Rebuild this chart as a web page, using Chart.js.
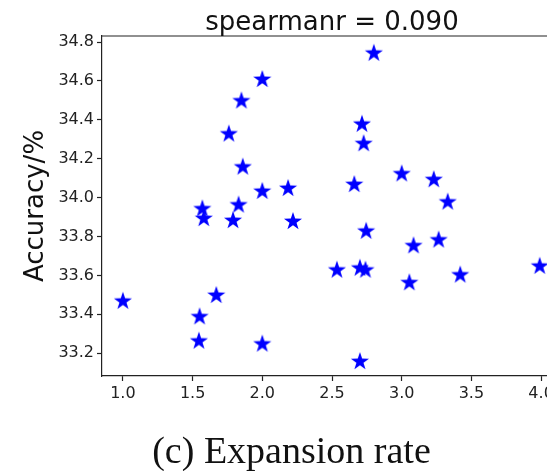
<!DOCTYPE html>
<html>
<head>
<meta charset="utf-8">
<script src="https://cdn.jsdelivr.net/npm/chart.js@4/dist/chart.umd.min.js"></script>
<style>
  html, body { margin: 0; padding: 0; background: #fff; overflow: hidden; width: 547px; height: 471px; }
  #wrap { position: relative; width: 547px; height: 471px; }
  #chart { position: absolute; left: 0; top: 0; }
  #caption {
    position: absolute; left: 0; top: 431px; width: 583px;
    text-align: center; font: 38px/38px 'Liberation Serif', 'Times New Roman', serif; color: #111;
  }
</style>
</head>
<body>
<div id="wrap">
  <canvas id="chart" width="600" height="471"></canvas>
  <div id="caption">(c) Expansion rate</div>
</div>
<script>
/* ================================================
   Expansion rate vs accuracy – scatter
================================================ */

const titleText = 'spearmanr = 0.090';
const xLabel = 'Expansion rate';
const yLabel = 'Accuracy/%';

const expansionRate = [
  1.00, 1.55, 1.545, 1.67, 2.00, 2.00, 1.85, 1.76, 1.86, 2.00, 1.57,
  1.58, 1.83, 1.79, 2.80, 2.715, 2.727, 3.00, 3.23, 3.33, 2.66, 2.185,
  2.22, 2.745, 3.085, 3.265, 2.535, 2.70, 2.74, 3.055, 3.42, 3.99, 2.70
];
const accuracy = [
  33.47, 33.39, 33.265, 33.50, 33.25, 34.61, 34.50, 34.33, 34.16, 34.035, 33.945,
  33.895, 33.965, 33.885, 34.745, 34.38, 34.28, 34.125, 34.095, 33.98, 34.07, 34.05,
  33.88, 33.83, 33.755, 33.785, 33.63, 33.64, 33.63, 33.565, 33.605, 33.65, 33.16
];

const xTicks = [1.0, 1.5, 2.0, 2.5, 3.0, 3.5, 4.0];
const yTicks = [33.2, 33.4, 33.6, 33.8, 34.0, 34.2, 34.4, 34.6, 34.8];

const INK = '#222';

function makeStar(size, color) {
  const c = document.createElement('canvas');
  c.width = size; c.height = size;
  const g = c.getContext('2d');
  const cx = size / 2, cy = size / 2 + 0.6;
  const R = size / 2 - 0.5, r = R * 0.39;
  g.beginPath();
  for (let i = 0; i < 10; i++) {
    const rad = i % 2 === 0 ? R : r;
    const a = -Math.PI / 2 + i * Math.PI / 5;
    const px = cx + rad * Math.cos(a), py = cy + rad * Math.sin(a);
    if (i === 0) g.moveTo(px, py); else g.lineTo(px, py);
  }
  g.closePath();
  g.fillStyle = color;
  g.fill();
  return c;
}

const star = makeStar(20, '#0000ff');

// top/right spines + title above the plot area
const framePlugin = {
  id: 'frame',
  afterDraw(chart) {
    const { ctx, chartArea: a } = chart;
    ctx.save();
    ctx.strokeStyle = INK;
    ctx.lineWidth = 1.2;
    ctx.beginPath();
    ctx.moveTo(a.left, a.top);
    ctx.lineTo(a.right, a.top);
    ctx.lineTo(a.right, a.bottom);
    ctx.stroke();
    ctx.fillStyle = '#111';
    ctx.font = '26px "DejaVu Sans"';
    ctx.textAlign = 'center';
    ctx.textBaseline = 'alphabetic';
    ctx.fillText(titleText, (a.left + a.right) / 2, a.top - 6);
    ctx.restore();
  }
};

const points = expansionRate.map((x, i) => ({ x, y: accuracy[i] }));

new Chart(document.getElementById('chart'), {
  type: 'scatter',
  data: {
    datasets: [{
      data: points,
      pointStyle: star,
      pointRadius: 9,
      pointHoverRadius: 9,
      backgroundColor: '#0000ff',
      borderColor: '#0000ff'
    }]
  },
  options: {
    responsive: false,
    animation: false,
    events: [],
    layout: { padding: { top: 36, right: 38, left: 0, bottom: 0 } },
    plugins: { legend: { display: false }, tooltip: { enabled: false } },
    scales: {
      x: {
        type: 'linear',
        min: 0.85, max: 4.15,
        afterFit: s => { s.height = 95; },
        afterBuildTicks: s => { s.ticks = xTicks.map(v => ({ value: v })); },
        grid: { drawOnChartArea: false, drawTicks: true, tickLength: 5, tickColor: INK, tickWidth: 1.2 },
        border: { display: true, color: INK, width: 1.2 },
        ticks: {
          color: INK, padding: 3,
          font: { family: 'DejaVu Sans', size: 16 },
          maxRotation: 0,
          callback: v => Number(v).toFixed(1)
        }
      },
      y: {
        type: 'linear',
        min: 33.083, max: 34.831,
        afterFit: s => { s.width = 102; },
        afterBuildTicks: s => { s.ticks = yTicks.map(v => ({ value: v })); },
        grid: { drawOnChartArea: false, drawTicks: true, tickLength: 5, tickColor: INK, tickWidth: 1.2 },
        border: { display: true, color: INK, width: 1.2 },
        title: {
          display: true, text: yLabel, color: '#111',
          font: { family: 'DejaVu Sans', size: 26 },
          padding: { top: 21, bottom: 0 }
        },
        ticks: {
          color: INK, padding: 3,
          font: { family: 'DejaVu Sans', size: 16 },
          callback: v => Number(v).toFixed(1)
        }
      }
    }
  },
  plugins: [framePlugin]
});
</script>
</body>
</html>
